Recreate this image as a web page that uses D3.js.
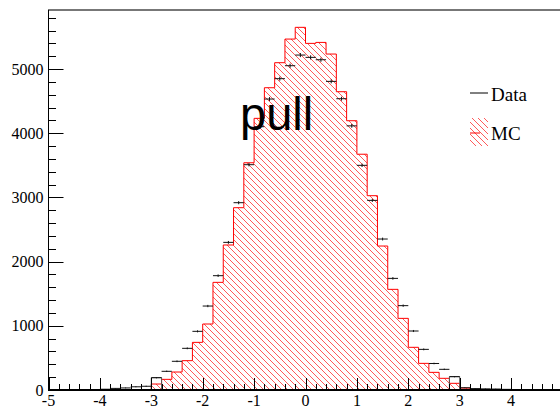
<!DOCTYPE html>
<html>
<head>
<meta charset="utf-8">
<script src="https://cdn.jsdelivr.net/npm/d3@7"></script>
<style>
  html, body { margin: 0; padding: 0; background: #fff; overflow: hidden; }
  text { font-family: "Liberation Serif", "Times New Roman", serif; }
</style>
</head>
<body>
<svg id="chart" width="560" height="407"></svg>
<script>
// Histogram binning: 50 bins of width 0.2 over [-5, 5]
const xMin = -5;
const xMax = 5;
const binWidth = 0.2;

// MC expectation per bin (left to right)
const mcCounts = [
  0, 0, 0, 0, 0, 0, 0, 0, 0, 0,
  93, 166, 280, 457, 742, 1028, 1677, 2259, 2840, 3540,
  4232, 4709, 5099, 5467, 5650, 5400, 5415, 5234, 4647, 4195,
  3673, 3027, 2243, 1568, 1116, 665, 415, 275, 182, 104,
  30, 0, 0, 0, 0, 0, 6, 0, 0, 0
];

// Observed data per bin
const dataCounts = [
  0, 0, 0, 0, 0, 12, 25, 32, 50, 58,
  192, 291, 447, 649, 914, 1308, 1781, 2300, 2918, 3510,
  4102, 4533, 4850, 5052, 5218, 5182, 5145, 4808, 4538, 4115,
  3500, 2954, 2352, 1739, 1314, 919, 633, 413, 322, 208,
  35, 22, 18, 15, 10, 0, 0, 0, 0, 0
];

// Vertical error on each data bin
const dataErrors = [
  0, 0, 0, 0, 0, 4, 5, 6, 7, 8,
  10, 11, 13, 14, 16, 18, 20, 22, 24, 26,
  29, 30, 31, 32, 32, 32, 32, 31, 30, 29,
  26, 24, 22, 20, 18, 16, 14, 12, 11, 10,
  6, 5, 4, 4, 3, 0, 0, 0, 0, 0
];

// Bins where the data histogram outline is shown
const dataOutlineBins = [10, 39];

const yTickValues = [0, 1000, 2000, 3000, 4000, 5000];
const xTickValues = [-5, -4, -3, -2, -1, 0, 1, 2, 3, 4];
const legendLabels = ["Data", "MC"];
const titleText = "pull";
const yMax = 5920;

const svg = d3.select("#chart");

const x = d3.scaleLinear().domain([xMin, xMax]).range([48.5, 562.5]);
const y = d3.scaleLinear().domain([0, yMax]).range([390, 10]);

const binLo = i => xMin + i * binWidth;
const binHi = i => xMin + (i + 1) * binWidth;

// Red diagonal hatch fill
const defs = svg.append("defs");
const pat = defs.append("pattern")
  .attr("id", "hatch")
  .attr("patternUnits", "userSpaceOnUse")
  .attr("width", 6).attr("height", 6);
pat.append("path")
  .attr("d", "M0,0 L6,6 M-1,5 L1,7 M5,-1 L7,1")
  .attr("stroke", "#ff5a5a")
  .attr("stroke-width", 1)
  .attr("fill", "none");

// MC histogram as a closed step outline
const firstMC = mcCounts.findIndex(v => v > 0);
let lastMC = mcCounts.length - 1;
while (lastMC > 0 && mcCounts[lastMC] === 0) lastMC--;
const mcPts = [[binLo(firstMC), 0]];
for (let i = firstMC; i <= lastMC; i++) {
  mcPts.push([binLo(i), mcCounts[i]]);
  mcPts.push([binHi(i), mcCounts[i]]);
}
mcPts.push([binHi(lastMC), 0]);
const stepLine = d3.line().x(d => x(d[0])).y(d => y(d[1]));

svg.append("path")
  .attr("d", stepLine(mcPts) + "Z")
  .attr("fill", "url(#hatch)")
  .attr("stroke", "none");
svg.append("path")
  .attr("d", stepLine(mcPts))
  .attr("fill", "none")
  .attr("stroke", "#ff0000")
  .attr("stroke-width", 1);

// Data outline on the edge bins
svg.append("g").selectAll("path")
  .data(dataOutlineBins)
  .join("path")
  .attr("d", i => stepLine([[binLo(i), 0], [binLo(i), dataCounts[i]], [binHi(i), dataCounts[i]], [binHi(i), 0]]))
  .attr("fill", "none")
  .attr("stroke", "#555")
  .attr("stroke-width", 1);

// Data points with error bars
const dataIdx = d3.range(dataCounts.length).filter(i => dataCounts[i] > 0);
const gData = svg.append("g").attr("stroke", "#111").attr("stroke-width", 1);
gData.selectAll("line.h")
  .data(dataIdx).join("line").attr("class", "h")
  .attr("x1", i => x(binLo(i))).attr("x2", i => x(binHi(i)))
  .attr("y1", i => y(dataCounts[i])).attr("y2", i => y(dataCounts[i]));
gData.selectAll("line.v")
  .data(dataIdx).join("line").attr("class", "v")
  .attr("x1", i => x(binLo(i) + binWidth / 2)).attr("x2", i => x(binLo(i) + binWidth / 2))
  .attr("y1", i => y(dataCounts[i] - dataErrors[i])).attr("y2", i => y(dataCounts[i] + dataErrors[i]));

// Frame top edge
svg.append("line")
  .attr("x1", 48).attr("x2", 560).attr("y1", 10).attr("y2", 10)
  .attr("stroke", "#777").attr("stroke-width", 2);

// Y axis with inward ticks
const yAxis = svg.append("g");
yAxis.append("line")
  .attr("x1", 48.5).attr("x2", 48.5).attr("y1", 10).attr("y2", 391)
  .attr("stroke", "#000").attr("stroke-width", 1);
const yMinor = d3.range(0, yMax, 200);
yAxis.selectAll("line.t")
  .data(yMinor).join("line").attr("class", "t")
  .attr("x1", 48.5)
  .attr("x2", d => 48.5 + (d % 1000 === 0 ? 15 : 7.5))
  .attr("y1", d => Math.round(y(d)) + 0.5).attr("y2", d => Math.round(y(d)) + 0.5)
  .attr("stroke", "#000").attr("stroke-width", 1);
yAxis.selectAll("text")
  .data(yTickValues).join("text")
  .attr("x", 43.5).attr("y", d => y(d) + 5.5)
  .attr("text-anchor", "end")
  .attr("font-size", 16)
  .text(d => d);

// X axis with inward ticks
const xAxis = svg.append("g");
const xMinor = d3.range(0, 51).map(k => xMin + k * binWidth);
xAxis.selectAll("line.t")
  .data(xMinor).join("line").attr("class", "t")
  .attr("x1", d => Math.round(x(d)) + 0.5).attr("x2", d => Math.round(x(d)) + 0.5)
  .attr("y1", 390)
  .attr("y2", (d, k) => 390 - (k % 5 === 0 ? 12 : 6))
  .attr("stroke", "#000").attr("stroke-width", 1);
xAxis.append("line")
  .attr("x1", 48).attr("x2", 560).attr("y1", 390).attr("y2", 390)
  .attr("stroke", "#000").attr("stroke-width", 2);
xAxis.selectAll("text")
  .data(xTickValues).join("text")
  .attr("x", d => x(d)).attr("y", 406)
  .attr("text-anchor", "middle")
  .attr("font-size", 16)
  .text(d => d);

// Legend
const leg = svg.append("g");
leg.append("line")
  .attr("x1", 470).attr("x2", 488).attr("y1", 93).attr("y2", 93)
  .attr("stroke", "#000").attr("stroke-width", 1);
leg.append("text").attr("x", 491).attr("y", 101).attr("font-size", 19).text(legendLabels[0]);
leg.append("rect")
  .attr("x", 470).attr("y", 118).attr("width", 18).attr("height", 28)
  .attr("fill", "url(#hatch)");
leg.append("line")
  .attr("x1", 470).attr("x2", 480).attr("y1", 133).attr("y2", 133)
  .attr("stroke", "#ff0000").attr("stroke-width", 1);
leg.append("text").attr("x", 491).attr("y", 140).attr("font-size", 19).text(legendLabels[1]);

// Title
svg.append("text")
  .attr("x", 240).attr("y", 130)
  .style("font-family", "'Liberation Sans', Arial, sans-serif")
  .attr("font-size", 47)
  .text(titleText);
</script>
</body>
</html>
